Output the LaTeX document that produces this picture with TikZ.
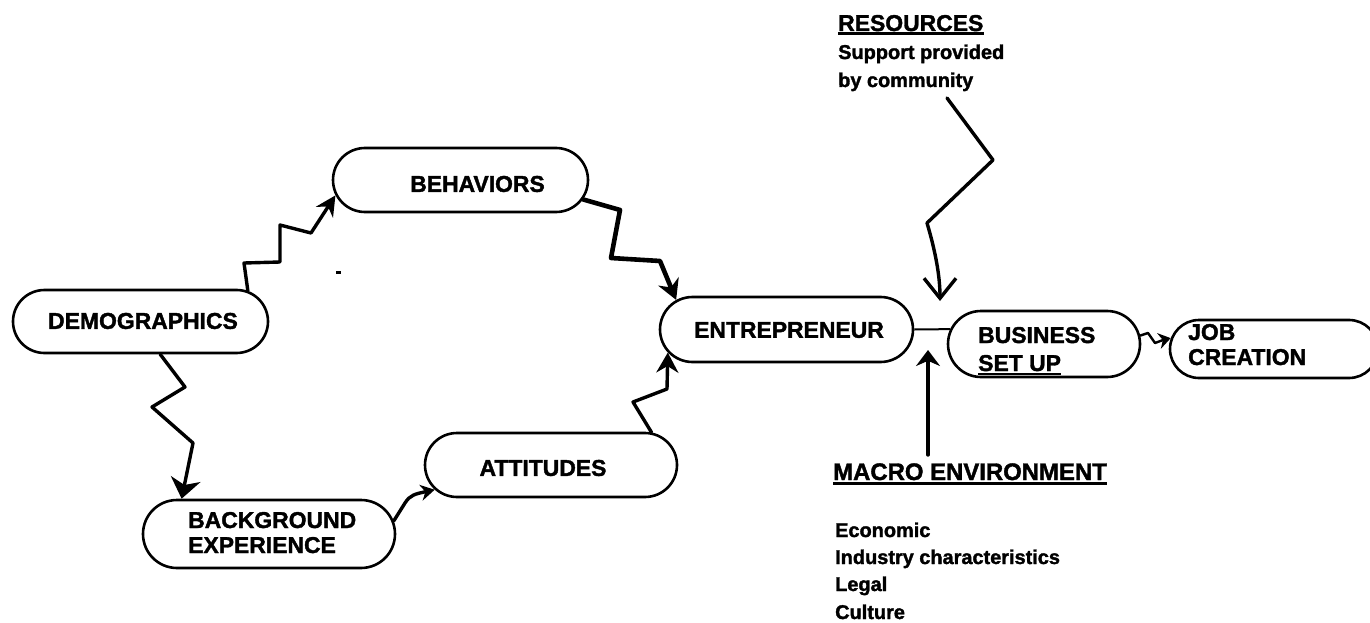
\documentclass[tikz,border=0pt]{standalone}
\usepackage{fontspec}
\setmainfont{Liberation Sans}[BoldFeatures={FakeBold=1.6}]
\usetikzlibrary{shapes.misc,arrows.meta}
\begin{document}
\begin{tikzpicture}[x=1bp,y=-1bp,
  box/.style={rounded rectangle, draw, line width=2.6bp, inner sep=0pt},
  captext/.style={inner sep=0pt, font=\bfseries\fontsize{23}{25}\selectfont},
  notetext/.style={inner sep=0pt, anchor=base west, font=\bfseries\fontsize{20}{24}\selectfont},
  link/.style={line width=3.4bp, line join=round, line cap=round},
  ulbar/.style={line width=3bp}]
\useasboundingbox (0,0) rectangle (1370,623);
\clip (0,0) rectangle (1370,623);

% rounded boxes
\node[box, minimum width=255bp, minimum height=63bp] (demo) at (140.5,321.5) {};
\node[box, minimum width=255bp, minimum height=64bp] (beh)  at (460.5,180) {};
\node[box, minimum width=253bp, minimum height=65bp] (ent)  at (786.5,329.5) {};
\node[box, minimum width=192bp, minimum height=66bp] (bus)  at (1044,344) {};
\node[box, minimum width=208bp, minimum height=58bp] (job)  at (1274,349) {};
\node[box, minimum width=252bp, minimum height=64bp] (att)  at (551,465) {};
\node[box, minimum width=252bp, minimum height=68bp] (bg)   at (269,534) {};

% box labels
\node[captext] (demotxt) at (143,321) {DEMOGRAPHICS};
\node[captext] (behtxt)  at (477.5,184) {BEHAVIORS};
\node[captext] (enttxt)  at (789,330) {ENTREPRENEUR};
\node[captext] (atttxt)  at (543,468) {ATTITUDES};
\node[captext, anchor=base west] (bgtxtA)  at (188,528) {BACKGROUND};
\node[captext, anchor=base west] (bgtxtB)  at (188,553) {EXPERIENCE};
\node[captext, anchor=base west] (bustxtA) at (978,343) {BUSINESS};
\node[captext, anchor=base west] (bustxtB) at (978,371) {SET UP};
\draw[line width=2bp] ([yshift=-3bp]bustxtB.base west) -- ([yshift=-3bp]bustxtB.base east);
\node[captext, anchor=base west] (jobtxtA) at (1188,340) {JOB};
\node[captext, anchor=base west] (jobtxtB) at (1188,365) {CREATION};

% resources note
\node[captext, anchor=base west] (res) at (838,31) {RESOURCES};
\draw[ulbar] ([yshift=-3bp]res.base west) -- ([yshift=-3bp]res.base east);
\node[notetext] (resA) at (838,59) {Support provided};
\node[notetext] (resB) at (838,87) {by community};

% macro environment note
\node[captext, anchor=base west, font=\bfseries\fontsize{24}{26}\selectfont] (mac) at (833,480) {MACRO ENVIRONMENT};
\draw[ulbar] ([yshift=-3bp]mac.base west) -- ([yshift=-3bp]mac.base east);
\node[notetext] (macA) at (835,537) {Economic};
\node[notetext] (macB) at (835,564) {Industry characteristics};
\node[notetext] (macC) at (835,591) {Legal};
\node[notetext] (macD) at (835,619) {Culture};

% zigzag links
\draw[link, -{Stealth[length=20bp,width=20bp]}]
  (demo.16) -- (244,263) -- (280,262) -- (280,225) -- (311,233) -- (beh.187);
\draw[link, line width=4.6bp, -{Stealth[length=20bp,width=22bp]}]
  (beh.-9) -- (620,210) -- (611,258) -- (660,261) -- (ent.165);
\draw[link, -{Stealth[length=20bp,width=30bp,inset=6bp]}]
  (demo.-59) -- (185,387) -- (152,407) -- (193,443) -- (bg.158);
\draw[link, -{Stealth[length=14bp,width=16bp]}]
  (bg.6) -- (405,503) .. controls (410,495) and (415,494) .. (att.192);
\draw[link, -{Stealth[length=20bp,width=22bp]}]
  (att.18) -- (633,402) -- (667,389) -- (ent.191);
\draw[line width=2bp] (ent.east) -- (bus.171);
\draw[link, line width=2.4bp, -{Stealth[length=12bp,width=16bp]}]
  (bus.5) -- (1148,333) -- (1155,343) -- (1163,340) -- (job.174);

% outside influences
\coordinate (rsrc) at (947,98);
\coordinate (rtip) at (940,301);
\draw[link, -{Straight Barb[length=20bp,width=32bp]}]
  (rsrc) -- (993,160) -- (927,223) .. controls (935,250) and (940,275) .. (rtip);
\coordinate (mbase) at (928,455);
\coordinate (mtip) at (928,350);
\draw[link, -{Stealth[length=16bp,width=24bp]}] (mbase) -- (mtip);

% stray mark
\fill (336,271) rectangle (341,274);
\end{tikzpicture}
\end{document}
